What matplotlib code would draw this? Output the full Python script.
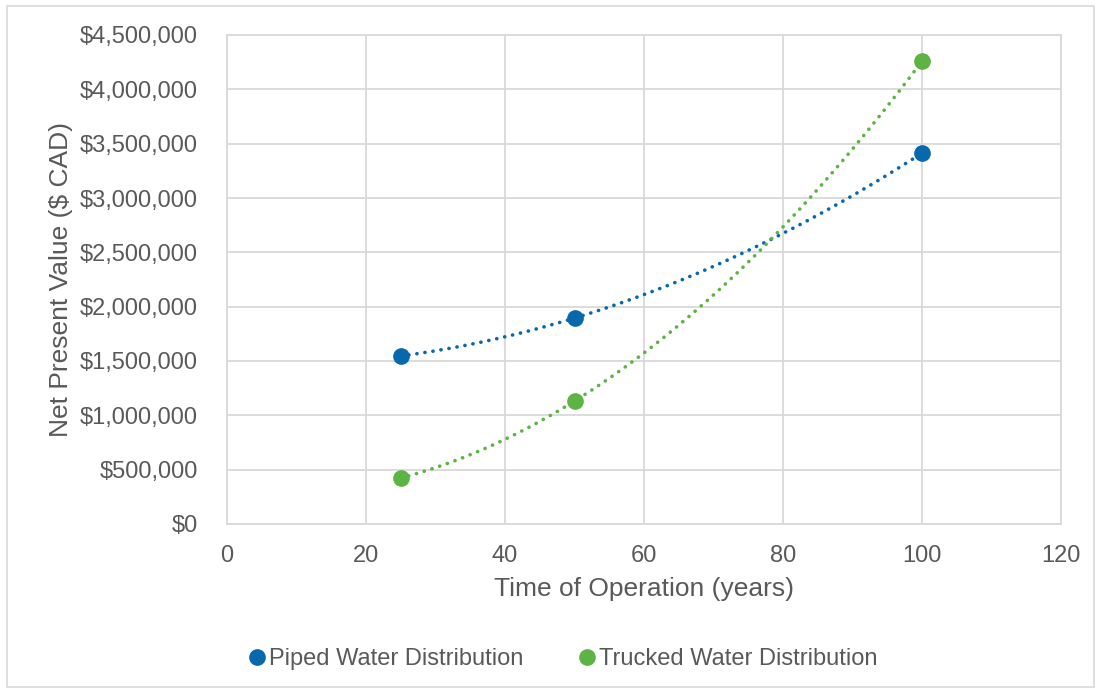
import numpy as np
import matplotlib
matplotlib.use("Agg")
import matplotlib.pyplot as plt
from matplotlib.patches import Rectangle
from matplotlib.ticker import FuncFormatter, MultipleLocator
from matplotlib.lines import Line2D

years = [25, 50, 100]
piped = [1546000, 1895000, 3413000]
trucked = [423000, 1131000, 4259000]
series_names = ["Piped Water Distribution", "Trucked Water Distribution"]
colors = ["#0868AC", "#5DB445"]

plt.rcParams['font.family'] = ['Liberation Sans', 'DejaVu Sans']
text_color = "#595959"
grid_color = "#D9D9D9"

fig = plt.figure(figsize=(11.01, 6.91), dpi=100)
fig.patches.append(Rectangle((7/1101, 1-687/691), 1087/1101, 681/691,
                             transform=fig.transFigure, fill=False,
                             edgecolor="#D9D9D9", linewidth=1.2))
ax = fig.add_axes([227/1101, 1-524/691, (1061-227)/1101, (524-35)/691])

for vals, col in zip([piped, trucked], colors):
    coef = np.polyfit(years, vals, 2)
    xs = np.linspace(min(years), max(years), 300)
    ax.plot(xs, np.polyval(coef, xs), color=col, lw=2.6,
            linestyle=(0, (0.05, 2.2)), dash_capstyle='round', zorder=3)
    ax.plot(years, vals, 'o', color=col, markersize=11, zorder=4)

ax.set_xlim(0, 120)
ax.set_ylim(0, 4500000)
ax.xaxis.set_major_locator(MultipleLocator(20))
ax.yaxis.set_major_locator(MultipleLocator(500000))
ax.yaxis.set_major_formatter(FuncFormatter(lambda v, p: "${:,.0f}".format(v)))
ax.grid(True, color=grid_color, lw=1.3)
ax.set_axisbelow(True)
for s in ax.spines.values():
    s.set_color(grid_color)
    s.set_linewidth(1.3)
ax.tick_params(length=0, labelsize=17, colors=text_color)
ax.tick_params(axis='y', pad=21)
ax.tick_params(axis='x', pad=15)
ax.set_xlabel("Time of Operation (years)", fontsize=19, color=text_color, labelpad=7)
ax.set_ylabel("Net Present Value ($ CAD)", fontsize=19, color=text_color, labelpad=5)

handles = [Line2D([], [], marker='o', ls='none', color=c, markersize=11) for c in colors]
fig.legend(handles, series_names, loc='center', bbox_to_anchor=(0.51, 1-659/691),
           ncol=2, frameon=False, fontsize=17, labelcolor=text_color,
           handletextpad=0.0, columnspacing=2.2, handlelength=1.0)

fig.savefig("out.png", dpi=100)
